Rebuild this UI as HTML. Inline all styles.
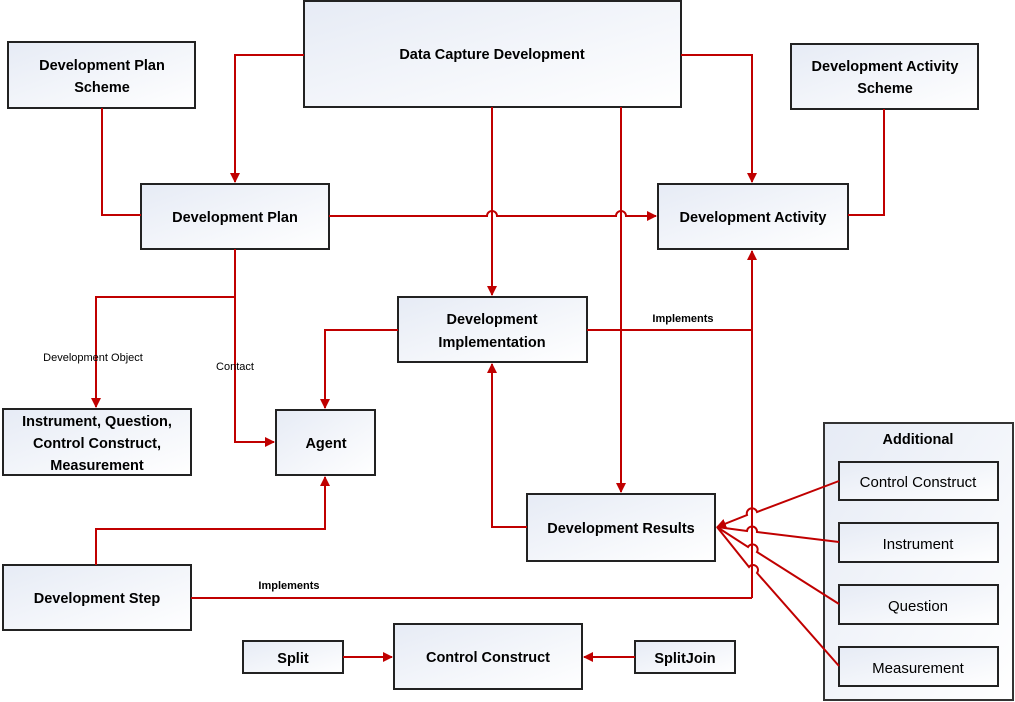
<!DOCTYPE html>
<html><head><meta charset="utf-8"><style>
html,body{margin:0;padding:0;background:#fff;}
svg{display:block;}
text{font-family:"Liberation Sans",sans-serif;}
</style></head><body>
<svg width="1015" height="702" viewBox="0 0 1015 702" xmlns="http://www.w3.org/2000/svg">
<defs>
<linearGradient id="g" x1="0" y1="0" x2="1" y2="1">
<stop offset="0" stop-color="#e6ebf5"/><stop offset="1" stop-color="#ffffff"/>
</linearGradient>
<marker id="a" markerWidth="10" markerHeight="10" refX="9" refY="5" orient="auto" markerUnits="userSpaceOnUse">
<path d="M0,0 L10,5 L0,10 z" fill="#c00000"/>
</marker>
</defs>
<g fill="url(#g)" stroke="#222" stroke-width="2">
<rect x="824" y="423" width="189" height="277" stroke="#333"/>
<rect x="304" y="1" width="377" height="106"/>
<rect x="8" y="42" width="187" height="66"/>
<rect x="791" y="44" width="187" height="65"/>
<rect x="141" y="184" width="188" height="65"/>
<rect x="658" y="184" width="190" height="65"/>
<rect x="398" y="297" width="189" height="65"/>
<rect x="3" y="409" width="188" height="66"/>
<rect x="276" y="410" width="99" height="65"/>
<rect x="839" y="462" width="159" height="38"/>
<rect x="839" y="523" width="159" height="39"/>
<rect x="839" y="585" width="159" height="39"/>
<rect x="839" y="647" width="159" height="39"/>
<rect x="527" y="494" width="188" height="67"/>
<rect x="3" y="565" width="188" height="65"/>
<rect x="243" y="641" width="100" height="32"/>
<rect x="394" y="624" width="188" height="65"/>
<rect x="635" y="641" width="100" height="32"/>
</g>
<g fill="none" stroke="#c00000" stroke-width="2">
<path d="M304,55 H235 V182" marker-end="url(#a)"/>
<path d="M681,55 H752 V182" marker-end="url(#a)"/>
<path d="M102,108 V215 H141"/>
<path d="M884,109 V215 H848"/>
<path d="M329,216 H487 a5,5 0 0 1 10,0 H616 a5,5 0 0 1 10,0 H656" marker-end="url(#a)"/>
<path d="M492,107 V295" marker-end="url(#a)"/>
<path d="M621,107 V492" marker-end="url(#a)"/>
<path d="M587,330 H752"/>
<path d="M752,598 V251" marker-end="url(#a)"/>
<path d="M235,249 V297 H96 V407" marker-end="url(#a)"/>
<path d="M235,297 V442 H274" marker-end="url(#a)"/>
<path d="M398,330 H325 V408" marker-end="url(#a)"/>
<path d="M527,527 H492 V364" marker-end="url(#a)"/>
<path d="M96,565 V529 H325 V477" marker-end="url(#a)"/>
<path d="M191,598 H752"/>
<path d="M343,657 H392" marker-end="url(#a)"/>
<path d="M635,657 H584" marker-end="url(#a)"/>
<path d="M839,481 L757,512 a5,5 0 0 0 -10,3 L717,527" marker-end="url(#a)"/>
<path d="M839,542 L757,532 a5,5 0 0 0 -10,-1 L717,527"/>
<path d="M839,604 L757,552 a5,5 0 0 0 -9,-5 L717,527"/>
<path d="M839,666 L757,573 a5,5 0 0 0 -8,-6 L717,527"/>
</g>
<g font-weight="bold" font-size="14.5" text-anchor="middle" fill="#000">
<text x="492" y="59">Data Capture Development</text>
<text x="102" y="70">Development Plan</text>
<text x="102" y="92">Scheme</text>
<text x="885" y="71">Development Activity</text>
<text x="885" y="93">Scheme</text>
<text x="235" y="222">Development Plan</text>
<text x="753" y="222">Development Activity</text>
<text x="492" y="324">Development</text>
<text x="492" y="347">Implementation</text>
<text x="97" y="426">Instrument, Question,</text>
<text x="97" y="448">Control Construct,</text>
<text x="97" y="470">Measurement</text>
<text x="326" y="448">Agent</text>
<text x="918" y="444">Additional</text>
<text x="621" y="533">Development Results</text>
<text x="97" y="603">Development Step</text>
<text x="293" y="663">Split</text>
<text x="488" y="662">Control Construct</text>
<text x="685" y="663">SplitJoin</text>
</g>
<g font-size="15" text-anchor="middle" fill="#000">
<text x="918" y="487">Control Construct</text>
<text x="918" y="549">Instrument</text>
<text x="918" y="611">Question</text>
<text x="918" y="673">Measurement</text>
</g>
<g font-size="11" text-anchor="middle" fill="#000">
<text x="93" y="361">Development Object</text>
<text x="235" y="370">Contact</text>
<text x="683" y="322" font-weight="bold">Implements</text>
<text x="289" y="589" font-weight="bold">Implements</text>
</g>
</svg>
</body></html>
